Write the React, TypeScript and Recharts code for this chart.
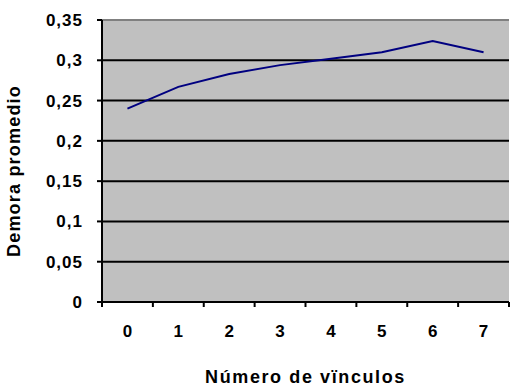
import React from 'react';
import { LineChart, Line, XAxis, YAxis, CartesianGrid, ReferenceLine } from 'recharts';

const categories = [0, 1, 2, 3, 4, 5, 6, 7];
const demora = [0.240, 0.267, 0.283, 0.294, 0.302, 0.310, 0.324, 0.310];
const yTicks = [0, 0.05, 0.1, 0.15, 0.2, 0.25, 0.3, 0.35];
const xBoundaryTicks = [-0.5, 0.5, 1.5, 2.5, 3.5, 4.5, 5.5, 6.5, 7.5];

const data = categories.map((c, i) => ({ x: c, v: demora[i] }));

const W = 510;
const H = 387;
const ML = 102;
const MR = 1;
const PLOT_W = W - ML - MR;
const HALF_BAND = PLOT_W / categories.length / 2;
const FONT = '"Liberation Sans", Arial, sans-serif';

const fmt = (v: number) => (Math.round(v * 100) / 100).toString().replace('.', ',');

const XTick = (props: any) => {
  const { x, y, payload } = props;
  const val = payload.value + 0.5;
  if (val > categories[categories.length - 1]) return null;
  return (
    <text x={x + HALF_BAND} y={y} dy={28} textAnchor="middle" fontFamily={FONT} fontWeight="bold" fontSize={17} fill="#000">
      {String(Math.round(val))}
    </text>
  );
};

const YTick = (props: any) => {
  const { x, y, payload } = props;
  return (
    <text x={x} y={y} dy={6} textAnchor="end" fontFamily={FONT} fontWeight="bold" fontSize={17} fill="#000" letterSpacing={1}>
      {fmt(payload.value)}
    </text>
  );
};

export default function App() {
  return (
    <div style={{ position: 'absolute', left: 0, top: 0, width: W, height: H, background: '#fff' }}>
      <LineChart width={W} height={H} data={data} margin={{ top: 20, right: MR, bottom: 0, left: 0 }}>
        <CartesianGrid horizontal vertical={false} stroke="#000" strokeWidth={2} fill="#C0C0C0" fillOpacity={1} />
        <XAxis
          dataKey="x"
          type="number"
          domain={[-0.5, 7.5]}
          ticks={xBoundaryTicks}
          interval={0}
          stroke="#000"
          strokeWidth={2}
          tickSize={5}
          tickMargin={2}
          height={85}
          tick={<XTick />}
          label={{ value: 'Número de vïnculos', position: 'insideBottom', offset: 4, fontFamily: FONT, fontWeight: 'bold', fontSize: 18, fill: '#000', letterSpacing: 1.6 }}
        />
        <YAxis
          type="number"
          domain={[0, 0.35]}
          ticks={yTicks}
          interval={0}
          width={ML}
          stroke="#000"
          strokeWidth={2}
          tickSize={5}
          tickMargin={14}
          tick={<YTick />}
          label={{ value: 'Demora promedio', angle: -90, position: 'insideLeft', offset: 14, dy: 10, fontFamily: FONT, fontWeight: 'bold', fontSize: 18, fill: '#000', letterSpacing: 1.2, style: { textAnchor: 'middle' } }}
        />
        <ReferenceLine y={0.35} stroke="#808080" strokeWidth={2} />
        <Line type="linear" dataKey="v" stroke="#000080" strokeWidth={2} dot={false} isAnimationActive={false} />
      </LineChart>
    </div>
  );
}
